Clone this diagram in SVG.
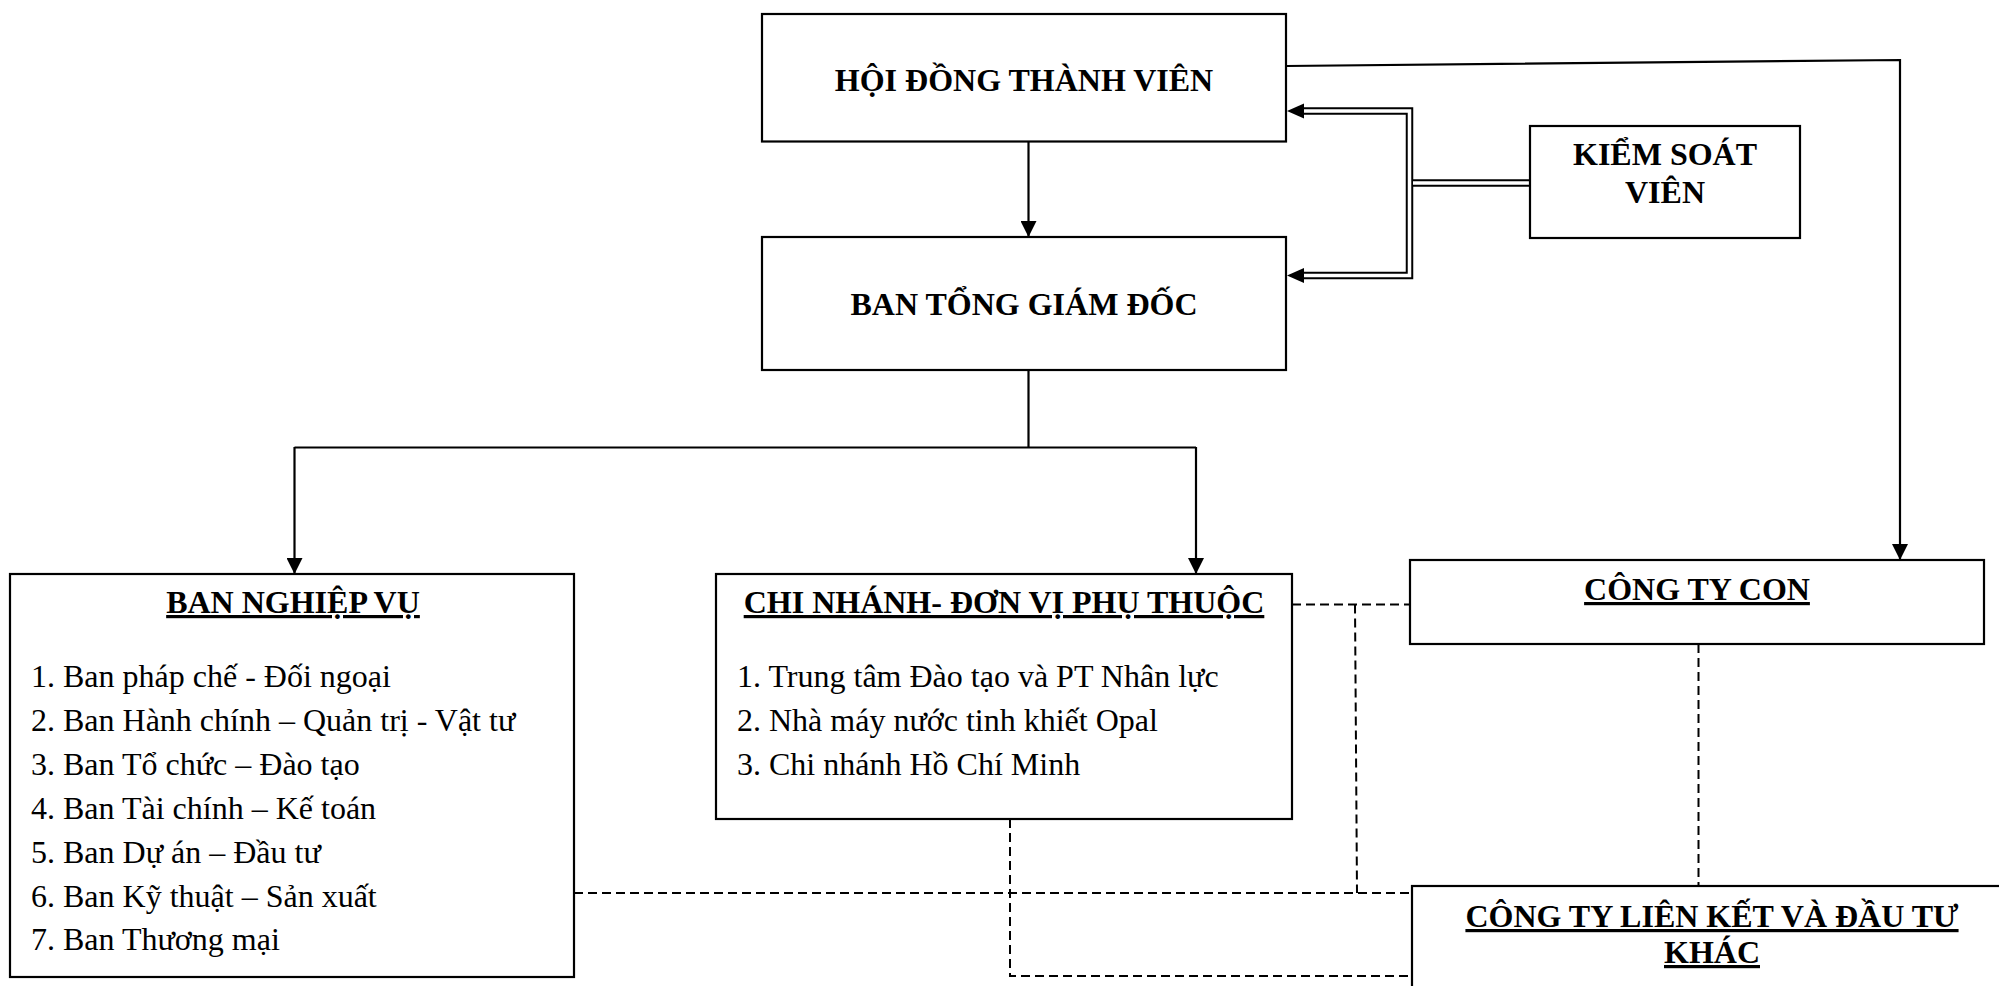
<svg xmlns="http://www.w3.org/2000/svg" width="1999" height="986" viewBox="0 0 1999 986">
<style>
.box{fill:#fff;stroke:#000;stroke-width:2.2}
.t{font-family:"Liberation Serif","Times New Roman",serif;fill:#000}
.b{font-weight:bold;font-size:32px;text-anchor:middle}
.u{text-decoration:underline}
.li{font-size:32px}
.ln{fill:none;stroke:#000;stroke-width:2.2}
.dash{fill:none;stroke:#000;stroke-width:2;stroke-dasharray:9 5}
.dblo{fill:none;stroke:#000;stroke-width:7.5}
.dbli{fill:none;stroke:#fff;stroke-width:3.5}
</style>
<defs>
<marker id="ah" viewBox="0 0 16 16" refX="16" refY="8" markerWidth="16" markerHeight="16" markerUnits="userSpaceOnUse" orient="auto">
<path d="M0,0 L16,8 L0,16 Z" fill="#000"/>
</marker>
</defs>
<rect width="1999" height="986" fill="#fff"/>
<g id="connectors">
<path class="ln" d="M1028.5,141.5 V237" marker-end="url(#ah)"/>
<path class="ln" d="M1028.5,370 V447.5 M294.5,447.5 H1196"/>
<path class="ln" d="M294.5,447 V574" marker-end="url(#ah)"/>
<path class="ln" d="M1196,447 V574" marker-end="url(#ah)"/>
<path class="ln" d="M1286,66 L1900,60 V560" marker-end="url(#ah)"/>
<path class="dblo" d="M1300,111 H1409.5 V275.5 H1300"/>
<path class="dblo" d="M1413,183 H1530"/>
<path class="dbli" d="M1300,111 H1409.5 V275.5 H1300"/>
<path class="dbli" d="M1413,183 H1530"/>
<path d="M1287,111 L1304,103.5 L1304,118.5 Z" fill="#000"/>
<path d="M1287,275.5 L1304,268 L1304,283 Z" fill="#000"/>
<path class="dash" d="M1292,604.5 H1410"/>
<path class="dash" d="M1355,604.5 L1357,893"/>
<path class="dash" d="M574,893 H1412"/>
<path class="dash" d="M1010,819 V976 H1412"/>
<path class="dash" d="M1698.5,644 V886"/>
</g>
<g id="hdtv">
<rect class="box" x="762" y="14" width="524" height="127.5"/>
<text class="t b" x="1024" y="91">HỘI ĐỒNG THÀNH VIÊN</text>
</g>
<g id="btgd">
<rect class="box" x="762" y="237" width="524" height="133"/>
<text class="t b" x="1024" y="315">BAN TỔNG GIÁM ĐỐC</text>
</g>
<g id="ksv">
<rect class="box" x="1530" y="126" width="270" height="112"/>
<text class="t b" x="1665" y="165">KIỂM SOÁT</text>
<text class="t b" x="1665" y="203">VIÊN</text>
</g>
<g id="ban-nghiep-vu">
<rect class="box" x="10" y="574" width="564" height="403"/>
<text class="t b u" x="293" y="613">BAN NGHIỆP VỤ</text>
<text class="t li" x="31" y="687">1. Ban pháp chế - Đối ngoại</text>
<text class="t li" x="31" y="730.5">2. Ban Hành chính – Quản trị - Vật tư</text>
<text class="t li" x="31" y="775">3. Ban Tổ chức – Đào tạo</text>
<text class="t li" x="31" y="818.5">4. Ban Tài chính – Kế toán</text>
<text class="t li" x="31" y="863">5. Ban Dự án – Đầu tư</text>
<text class="t li" x="31" y="906.5">6. Ban Kỹ thuật – Sản xuất</text>
<text class="t li" x="31" y="950">7. Ban Thương mại</text>
</g>
<g id="chi-nhanh">
<rect class="box" x="716" y="574" width="576" height="245"/>
<text class="t b u" x="1004" y="613">CHI NHÁNH- ĐƠN VỊ PHỤ THUỘC</text>
<text class="t li" x="737" y="687">1. Trung tâm Đào tạo và PT Nhân lực</text>
<text class="t li" x="737" y="730.5">2. Nhà máy nước tinh khiết Opal</text>
<text class="t li" x="737" y="775">3. Chi nhánh Hồ Chí Minh</text>
</g>
<g id="cong-ty-con">
<rect class="box" x="1410" y="560" width="574" height="84"/>
<text class="t b u" x="1697" y="600">CÔNG TY CON</text>
</g>
<g id="cong-ty-lien-ket">
<rect class="box" x="1412" y="886" width="620" height="140"/>
<text class="t b u" x="1712" y="927">CÔNG TY LIÊN KẾT VÀ ĐẦU TƯ</text>
<text class="t b u" x="1712" y="963">KHÁC</text>
</g>
</svg>
